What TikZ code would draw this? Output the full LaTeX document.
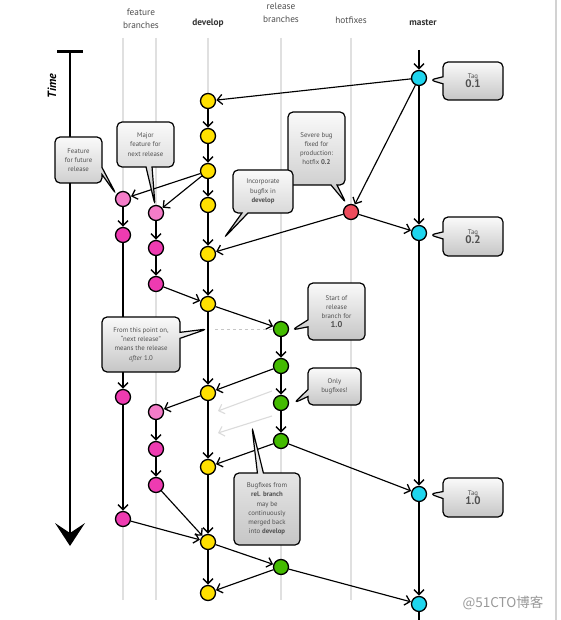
\documentclass[tikz,border=0pt]{standalone}
\usepackage{fontspec}
\setmainfont{PT Sans}
\newfontfamily\cjkfont{Noto Sans CJK SC}
\usetikzlibrary{arrows.meta,shapes.callouts}
\definecolor{cyel}{HTML}{FFE000}
\definecolor{cpinkl}{HTML}{F47CC8}
\definecolor{cpink}{HTML}{EE3BB1}
\definecolor{cgreen}{HTML}{44BB00}
\definecolor{cred}{HTML}{EE4C5C}
\definecolor{ccyan}{HTML}{1ED5EE}
\definecolor{ctext}{HTML}{505050}
\pgfdeclarelayer{bg}
\pgfdeclarelayer{edges}
\pgfsetlayers{bg,edges,main}
\begin{document}
\begin{tikzpicture}[x=1pt,y=-1pt,
  commit/.style={circle,draw=black,line width=1.3pt,minimum size=15pt,inner sep=0pt},
  dev/.style={commit,fill=cyel},
  featl/.style={commit,fill=cpinkl},
  feat/.style={commit,fill=cpink},
  rel/.style={commit,fill=cgreen},
  hot/.style={commit,fill=cred},
  mas/.style={commit,fill=ccyan},
  lane/.style={draw=gray!24,line width=2.6pt},
  flow/.style={draw=black,line width=1.15pt,-{Straight Barb[length=5pt,width=10pt,line width=1.3pt]},shorten >=0.3pt},
  ghost/.style={draw=gray!28,line width=1.1pt,-{Straight Barb[length=5pt,width=10pt]}},
  plain/.style={draw=black,line width=1.15pt},
  header/.style={text=ctext,font=\fontsize{9.3}{13.5}\selectfont,align=center},
  bheader/.style={text=black!80,font=\bfseries\fontsize{9.3}{13.5}\selectfont,align=center},
  note/.style={rectangle callout,rounded corners=5pt,draw=black,line width=1.2pt,
    top color=gray!4,bottom color=gray!45,text=ctext,align=center,inner sep=1pt,
    callout pointer width=7pt,font=\fontsize{6.8}{9.2}\selectfont},
  tagnum/.style={},
]
\useasboundingbox (0,0) rectangle (561,620);

% headers
\node[header] (hfeat) at (141,19) {feature\\branches};
\node[bheader] (hdev) at (208,23) {develop};
\node[header] (hrel) at (281,13) {release\\branches};
\node[header] (hhot) at (351,20) {hotfixes};
\node[bheader] (hmas) at (423,23) {master};

% lanes
\begin{pgfonlayer}{bg}
\fill[white] (0,0) rectangle (561,620);
\foreach \x in {123,156,208,281,351}{\draw[lane] (\x,38) -- (\x,600);}
\draw[gray!35,line width=1.5pt] (556,0) -- (556,620);
\end{pgfonlayer}

% time axis
\draw[black,line width=3pt] (57,52) -- (83,52);
\draw[black,line width=2.6pt] (70,52) -- (70,536);
\fill[black] (55,523) -- (70,546) -- (85,523) -- (70,533) -- cycle;
\node[rotate=90,font=\bfseries\itshape\fontsize{12}{12}\selectfont] (time) at (52,86) {Time};

% callouts
\node[note,minimum width=47pt,minimum height=46pt,callout absolute pointer={(116,194)}] (c1) at (78.5,160) {Feature\\for future\\release};
\node[note,minimum width=57pt,minimum height=45pt,callout absolute pointer={(155,205)},callout pointer width=6pt] (c2) at (145.5,144.5) {Major\\feature for\\next release};
\node[note,minimum width=60pt,minimum height=38pt,callout absolute pointer={(430,80)}] (t1) at (473,81) {Tag\\[-1pt]{\bfseries\fontsize{11}{11}\selectfont 0.1}};
\node[note,minimum width=57pt,minimum height=73pt,callout absolute pointer={(346,203)},callout pointer width=6pt] (c4) at (316.5,148.5) {Severe bug\\fixed for\\production:\\hotfix \textbf{0.2}};
\node[note,minimum width=60pt,minimum height=43pt,callout absolute pointer={(224,238)},callout pointer width=6pt] (c5) at (263,191.5) {Incorporate\\bugfix in\\\textbf{develop}};
\node[note,minimum width=60pt,minimum height=39pt,callout absolute pointer={(430,235)}] (t2) at (473,236.5) {Tag\\[-1pt]{\bfseries\fontsize{11}{11}\selectfont 0.2}};
\node[note,minimum width=57pt,minimum height=57pt,callout absolute pointer={(292,330)}] (c7) at (336.5,311.5) {Start of\\release\\branch for\\{\bfseries\fontsize{8.5}{10}\selectfont 1.0}};
\node[note,minimum width=78pt,minimum height=55pt,callout absolute pointer={(207,329)},callout pointer width=6pt] (c8) at (141,344.5) {From this point on,\\``next release''\\means the release\\\emph{after} 1.0};
\node[note,minimum width=53pt,minimum height=37pt,callout absolute pointer={(294,403)}] (c9) at (334.5,386.5) {Only\\bugfixes!};
\node[note,minimum width=66pt,minimum height=72pt,callout absolute pointer={(252,427)},callout pointer width=6pt] (c10) at (267,509) {Bugfixes from\\\textbf{rel. branch}\\may be\\continuously\\merged back\\into \textbf{develop}};
\node[note,minimum width=60pt,minimum height=39pt,callout absolute pointer={(430,494)}] (t3) at (473,497.5) {Tag\\[-1pt]{\bfseries\fontsize{11}{11}\selectfont 1.0}};

% commits
\node[dev] (d1) at (208,101) {};
\node[dev] (d2) at (208,136) {};
\node[dev] (d3) at (208,171) {};
\node[dev] (d4) at (208,205) {};
\node[dev] (d5) at (208,254) {};
\node[dev] (d6) at (208,304) {};
\node[dev] (d7) at (208,393) {};
\node[dev] (d8) at (208,467) {};
\node[dev] (d9) at (208,542) {};
\node[dev] (d10) at (208,593) {};
\node[featl] (a1) at (123,199) {};
\node[feat] (a2) at (123,235) {};
\node[feat] (a3) at (123,397) {};
\node[feat] (a4) at (123,519) {};
\node[featl] (b1) at (156,213) {};
\node[feat] (b2) at (156,248) {};
\node[feat] (b3) at (156,284) {};
\node[featl] (b4) at (156,412) {};
\node[feat] (b5) at (156,449) {};
\node[feat] (b6) at (156,485) {};
\node[rel] (r1) at (281,329) {};
\node[rel] (r2) at (281,366) {};
\node[rel] (r3) at (281,403) {};
\node[rel] (r4) at (281,441) {};
\node[rel] (r5) at (281,567) {};
\node[hot] (h1) at (351,212) {};
\node[mas] (m1) at (419,78) {};
\node[mas] (m2) at (419,233) {};
\node[mas] (m3) at (419,494) {};
\node[mas] (m4) at (419,604) {};

\coordinate (mtop) at (419,50);
\coordinate (mbot) at (419,620);
\coordinate (dash0) at (215,329);
\coordinate (g1s) at (272,391);
\coordinate (g1e) at (218,411);
\coordinate (g2s) at (272,416);
\coordinate (g2e) at (218,433);

% watermark
\node[font=\cjkfont\fontsize{13.5}{14}\selectfont,text=gray!80,inner sep=0pt] (wm) at (503,603) {@51CTO博客};

\begin{pgfonlayer}{edges}
% develop
\draw[flow] (d1) -- (d2);
\draw[flow] (d2) -- (d3);
\draw[flow] (d3) -- (d4);
\draw[flow] (d4) -- (d5);
\draw[flow] (d5) -- (d6);
\draw[flow] (d6) -- (d7);
\draw[flow] (d7) -- (d8);
\draw[flow] (d8) -- (d9);
\draw[flow] (d9) -- (d10);
% features
\draw[flow] (d3) -- (a1);
\draw[flow] (d3) -- (b1);
\draw[flow] (a1) -- (a2);
\draw[flow] (a2) -- (a3);
\draw[flow] (a3) -- (a4);
\draw[flow] (a4) -- (d9);
\draw[flow] (b1) -- (b2);
\draw[flow] (b2) -- (b3);
\draw[flow] (b3) -- (d6);
\draw[flow] (d7) -- (b4);
\draw[flow] (b4) -- (b5);
\draw[flow] (b5) -- (b6);
\draw[flow] (b6) -- (d9);
% release
\draw[gray!45,dashed,line width=0.8pt] (dash0) -- (r1);
\draw[flow] (d6) -- (r1);
\draw[flow] (r1) -- (r2);
\draw[flow] (r2) -- (r3);
\draw[flow] (r3) -- (r4);
\draw[flow] (r2) -- (d7);
\draw[flow] (r4) -- (d8);
\draw[flow] (r4) -- (m3);
\draw[flow] (d9) -- (r5);
\draw[flow] (r5) -- (d10);
\draw[flow] (r5) -- (m4);
\draw[ghost] (g1s) -- (g1e);
\draw[ghost] (g2s) -- (g2e);
% hotfix / master
\draw[flow] (mtop) -- (m1);
\draw[flow] (m1) -- (d1);
\draw[flow] (m1) -- (h1);
\draw[flow] (m1) -- (m2);
\draw[flow] (h1) -- (m2);
\draw[flow] (h1) -- (d5);
\draw[flow] (m2) -- (m3);
\draw[flow] (m3) -- (m4);
\draw[plain] (m4) -- (mbot);
\end{pgfonlayer}
\end{tikzpicture}
\end{document}
